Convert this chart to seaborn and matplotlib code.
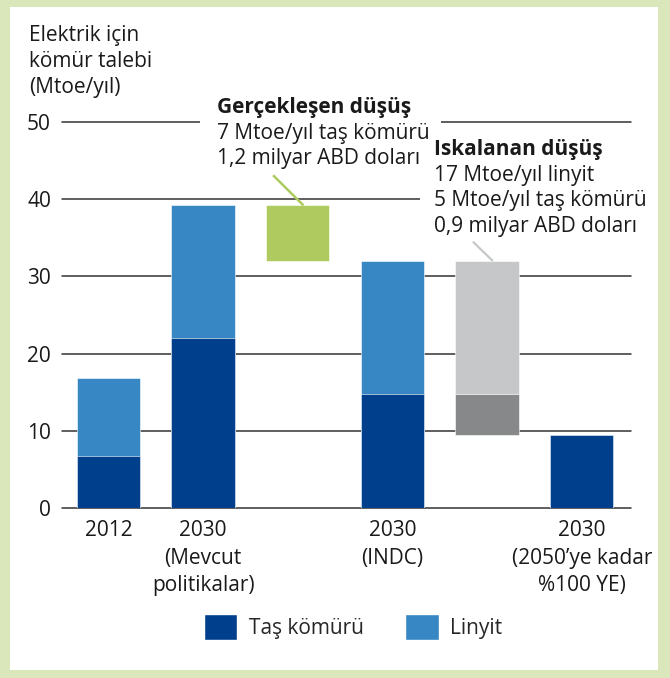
import matplotlib
matplotlib.use("Agg")

import matplotlib.pyplot as plt
from matplotlib import font_manager
from matplotlib.patches import Rectangle, Patch
import seaborn as sns
import pandas as pd

# x positions, the two empty slots hold the floating "drop" bars
categories = ["2012", "mevcut", "gercek", "indc", "iskala", "ye100"]
tick_labels = ["2012", "2030\n(Mevcut\npolitikalar)", "", "2030\n(INDC)", "",
               "2030\n(2050’ye kadar\n%100 YE)"]

# stacked scenario bars (Mtoe/yıl)
scenario_cats = ["2012", "mevcut", "indc", "ye100"]
tas_komuru = [6.8, 22.0, 14.8, 9.5]
linyit = [10.0, 17.2, 17.2, 0.0]

# Gerçekleşen düşüş (green, floating)
realised_low = 32.0
realised_high = 39.2

# Iskalanan düşüş (grey, floating): taş kömürü part + linyit part
missed_tas_low, missed_tas_high = 9.5, 14.8
missed_lin_low, missed_lin_high = 14.8, 32.0

yticks = [0, 10, 20, 30, 40, 50]

title_lines = ["Elektrik için", "kömür talebi", "(Mtoe/yıl)"]
realised_lines = ["Gerçekleşen düşüş", "7 Mtoe/yıl taş kömürü", "1,2 milyar ABD doları"]
missed_lines = ["Iskalanan düşüş", "17 Mtoe/yıl linyit", "5 Mtoe/yıl taş kömürü",
                "0,9 milyar ABD doları"]

DARK = "#003f8c"
LIGHT = "#3787c4"
GREEN = "#afca5f"
LGREY = "#c6c7c8"
DGREY = "#87888a"
BORDER = "#d9e7ba"
TXT = "#1a1a1a"


def pick_family():
    # first humanist sans that also ships a bold face
    for fam in ["Noto Sans", "Open Sans", "Lato", "Roboto"]:
        weights = [f.weight for f in font_manager.fontManager.ttflist if f.name == fam]
        has_bold = any((w if isinstance(w, int) else {"bold": 700}.get(w, 400)) >= 600
                       for w in weights)
        if weights and has_bold:
            return fam
    return "DejaVu Sans"


sns.set_theme(style="white")
FAM = pick_family()
plt.rcParams["font.family"] = [FAM, "DejaVu Sans"]
FS = 15

W, H = 670, 678
fig = plt.figure(figsize=(W / 100, H / 100), dpi=100)
fig.patch.set_facecolor(BORDER)
fig.add_artist(Rectangle((10 / W, 8 / H), 648 / W, 663 / H, transform=fig.transFigure,
                         fc="white", ec="none", zorder=-1))

# axes box in pixels: left 62, right 631, bottom 508, top 122 (from top)
ax = fig.add_axes([62 / W, (H - 508) / H, 569 / W, 386 / H])
ax.set_facecolor("none")

df = pd.DataFrame({"kat": scenario_cats, "tas": tas_komuru, "linyit": linyit})
df["toplam"] = df["tas"] + df["linyit"]

bar_kw = dict(order=categories, width=0.67, saturation=1, ax=ax,
              edgecolor="white", linewidth=0.4)
sns.barplot(data=df, x="kat", y="toplam", color=LIGHT, **bar_kw)
sns.barplot(data=df, x="kat", y="tas", color=DARK, **bar_kw)

sns.barplot(x=["gercek"], y=[realised_high - realised_low], bottom=realised_low,
            color=GREEN, **bar_kw)
sns.barplot(x=["iskala"], y=[missed_lin_high - missed_lin_low], bottom=missed_lin_low,
            color=LGREY, **bar_kw)
sns.barplot(x=["iskala"], y=[missed_tas_high - missed_tas_low], bottom=missed_tas_low,
            color=DGREY, **bar_kw)

ax.set_xlim(-0.49, 5.52)
ax.set_ylim(0, 50)
ax.set_yticks(yticks)
ax.set_yticklabels([str(v) for v in yticks], fontsize=FS, color=TXT)
ax.set_xticks(range(len(categories)))
ax.set_xticklabels(tick_labels, fontsize=FS, color=TXT, linespacing=1.38)
ax.set_xlabel("")
ax.set_ylabel("")
ax.tick_params(axis="both", length=0)
ax.tick_params(axis="y", pad=8)
ax.tick_params(axis="x", pad=9)
for s in ax.spines.values():
    s.set_visible(False)
ax.set_axisbelow(True)
ax.yaxis.grid(True, color="#333333", linewidth=1.1)
for gl in ax.get_ygridlines():
    gl.set_clip_on(False)

# white masks that break the gridlines behind the annotation blocks
ax.add_patch(Rectangle((0.2425, 0.876), 0.4235, 0.19, transform=ax.transAxes,
                       fc="white", ec="none", zorder=1.5, clip_on=False))
ax.add_patch(Rectangle((0.629, 0.694), 0.415, 0.28, transform=ax.transAxes,
                       fc="white", ec="none", zorder=1.5, clip_on=False))

# connector lines
ax.plot([1.74, 2.06], [43.1, 39.2], color=GREEN, lw=1.8, zorder=3,
        solid_capstyle="butt", clip_on=False)
ax.plot([3.85, 4.06], [34.5, 32.0], color=LGREY, lw=1.6, zorder=3,
        solid_capstyle="butt", clip_on=False)

step = 25.5 / 386
for i, line in enumerate(realised_lines):
    ax.text(0.272, 1.023 - i * step, line, transform=ax.transAxes, fontsize=FS,
            color=TXT, va="baseline", ha="left", zorder=4,
            fontweight="bold" if i == 0 else "normal")
for i, line in enumerate(missed_lines):
    ax.text(0.654, 0.9145 - i * step, line, transform=ax.transAxes, fontsize=FS,
            color=TXT, va="baseline", ha="left", zorder=4,
            fontweight="bold" if i == 0 else "normal")

for i, line in enumerate(title_lines):
    fig.text(29 / W, (H - 40.7 - i * 26) / H, line, fontsize=FS, color=TXT,
             va="baseline", ha="left")

handles = [Patch(facecolor=DARK, label="Taş kömürü"), Patch(facecolor=LIGHT, label="Linyit")]
fig.legend(handles=handles, loc="center", bbox_to_anchor=(0.527, 0.075), ncol=2,
           frameon=False, fontsize=FS, handlelength=1.6, handleheight=1.55,
           handletextpad=0.55, columnspacing=2.0)

fig.savefig("out.png", dpi=100, facecolor=fig.get_facecolor())
